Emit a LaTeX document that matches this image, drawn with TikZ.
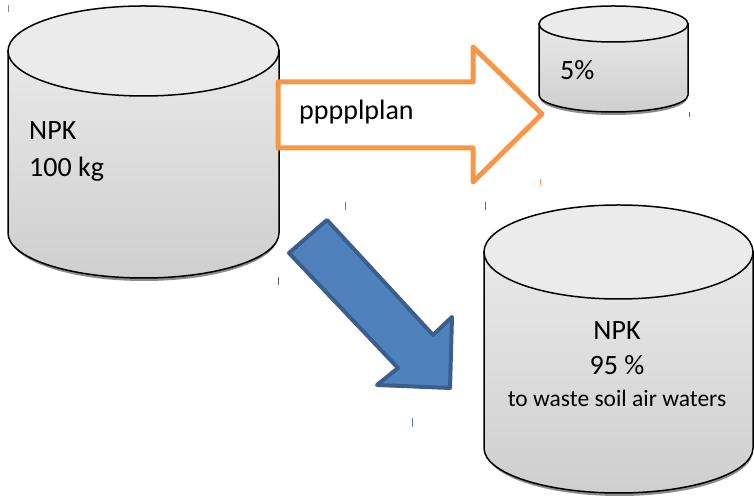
\documentclass[tikz,border=0pt]{standalone}
\usepackage{fontspec}
\setmainfont{Carlito}
\usepackage{tikz}

\definecolor{plorange}{HTML}{F79646}
\definecolor{wasteblue}{HTML}{4F81BD}
\definecolor{wasteedge}{HTML}{3A5F8C}
\tikzset{
  tankbody/.style={draw=black,line width=1.5pt,top color=black!9,bottom color=black!19},
  tanktop/.style={draw=black,line width=1.5pt,fill=black!8},
  tankshadow/.style={fill=black!45,draw=none},
  lbl/.style={inner sep=0pt,font=\fontsize{28}{32}\selectfont},
  tick mark/.style={line width=1pt}
}

\begin{document}
\begin{tikzpicture}[x=1pt,y=1pt]
			\useasboundingbox (0,0) rectangle (754,502);
			% NPK 100 kg tank
			\fill[tankshadow] (10,266) arc[start angle=180,end angle=360,x radius=134pt,y radius=45pt] -- cycle;
			\draw[tankbody] (8,451) -- (8,269) arc[start angle=180,end angle=360,x radius=135.5pt,y radius=45pt] -- (279,451) -- cycle;
			\draw[tanktop] (143.5,451) ellipse [x radius=135.5pt,y radius=45pt];
			\node[lbl,anchor=base west] (npkin) at (29,362) {NPK};
			\node[lbl,anchor=base west] (kgin) at (29,325) {100 kg};
			% plant tank
			\fill[tankshadow] (540,404) arc[start angle=180,end angle=360,x radius=73.5pt,y radius=17pt] -- cycle;
			\draw[tankbody] (539,478) -- (539,407) arc[start angle=180,end angle=360,x radius=74.5pt,y radius=17pt] -- (688,478) -- cycle;
			\draw[tanktop] (613.5,478) ellipse [x radius=74.5pt,y radius=18pt];
			\node[lbl,anchor=base west] (plantpct) at (560,422) {5\%};
			% waste tank
			\fill[tankshadow] (486,51) arc[start angle=180,end angle=360,x radius=133.5pt,y radius=45pt] -- cycle;
			\draw[tankbody] (484,250) -- (484,54) arc[start angle=180,end angle=360,x radius=134.5pt,y radius=45pt] -- (753,250) -- cycle;
			\draw[tanktop] (618.5,250) ellipse [x radius=134.5pt,y radius=47pt];
			\node[lbl,anchor=base] (npkout) at (617,162) {NPK};
			\node[lbl,anchor=base] (wastepct) at (617,127) {95 \%};
			\node[lbl,anchor=base,font=\fontsize{23.5}{28}\selectfont] (wastetxt) at (617,95) {to waste soil air waters};
			% arrow to plant
			\draw[plorange,line width=5pt,fill=white,line join=round]
				(278,420) -- (473,420) -- (473,455) -- (542,388) -- (473,320) -- (473,354) -- (278,354) -- cycle;
			\node[lbl,anchor=base west] (plan) at (299,382) {pppplplan};
			% arrow to waste
			\draw[wasteedge,line width=4pt,fill=wasteblue,line join=round]
				(327,282) -- (433,167) -- (452,185) -- (450,114) -- (377,117) -- (398,134) -- (289,249) -- cycle;
			% left over marks
			\draw[tick mark,black!45] (8,497) -- (8,490);
			\draw[tick mark,wasteblue] (345,300) -- (345,292);
			\draw[tick mark,wasteblue] (412,84) -- (412,75);
			\draw[tick mark,black!60] (689,390) -- (689,385);
			\draw[tick mark,plorange] (540,323) -- (540,317);
			\draw[tick mark,black!60] (278,225) -- (278,217);
			\draw[tick mark,black!60] (485,300) -- (485,292);
		\end{tikzpicture}
\end{document}
